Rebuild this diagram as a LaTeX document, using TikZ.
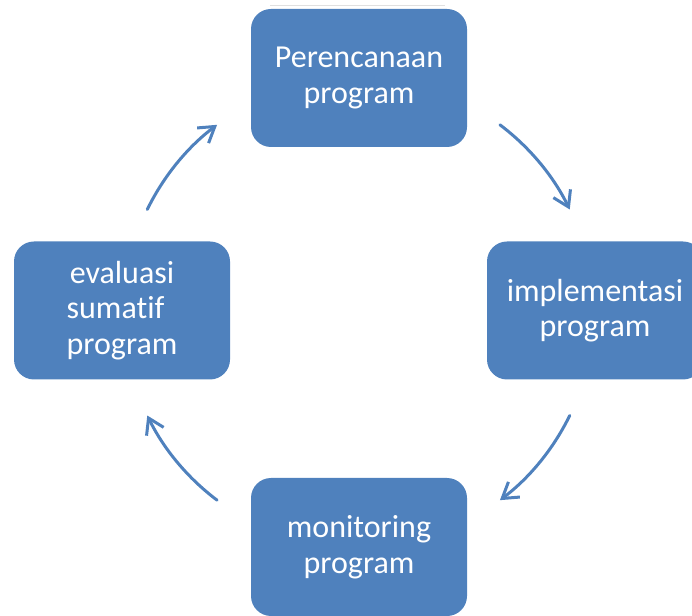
\documentclass[tikz,border=0pt]{standalone}
\usepackage{fontspec}
\setmainfont{Carlito}[Ligatures={NoCommon}]
\usetikzlibrary{arrows.meta}
\definecolor{boxblue}{HTML}{4F81BD}
\tikzset{
  stagebox/.style={fill=boxblue, draw=none, rounded corners=20pt,
    minimum width=216pt, minimum height=138pt, inner sep=0pt,
    text=white, align=center, font=\fontsize{32}{35.5}\selectfont},
  cyclearrow/.style={draw=boxblue, line width=3pt, line cap=round,
    -{Straight Barb[length=15pt,width=19pt,line width=3pt]}}
}
\begin{document}
\begin{tikzpicture}[x=1pt,y=1pt]
\useasboundingbox (0,0) rectangle (692,615);
\draw[black!12, line width=0.8pt] (270,610) -- (445,610);
\coordinate (ctr) at (358.5,302.5);
\node[stagebox] (plan) at (359,537) {Perencanaan\\program};
\node[stagebox] (impl) at (595,304.5) {implementasi\\program};
\node[stagebox] (moni) at (359,68) {monitoring\\program};
\node[stagebox] (eval) at (122,304.5) {evaluasi\\sumatif\hbox to 13pt{}\\program};
\draw[cyclearrow] ([shift={(53:235pt)}]ctr) arc[start angle=53, end angle=26, radius=235pt];
\draw[cyclearrow] ([shift={(-26:235pt)}]ctr) arc[start angle=-26, end angle=-53, radius=235pt];
\draw[cyclearrow] ([shift={(233:235pt)}]ctr) arc[start angle=233, end angle=206, radius=235pt];
\draw[cyclearrow] ([shift={(154:235pt)}]ctr) arc[start angle=154, end angle=127, radius=235pt];
\end{tikzpicture}
\end{document}
